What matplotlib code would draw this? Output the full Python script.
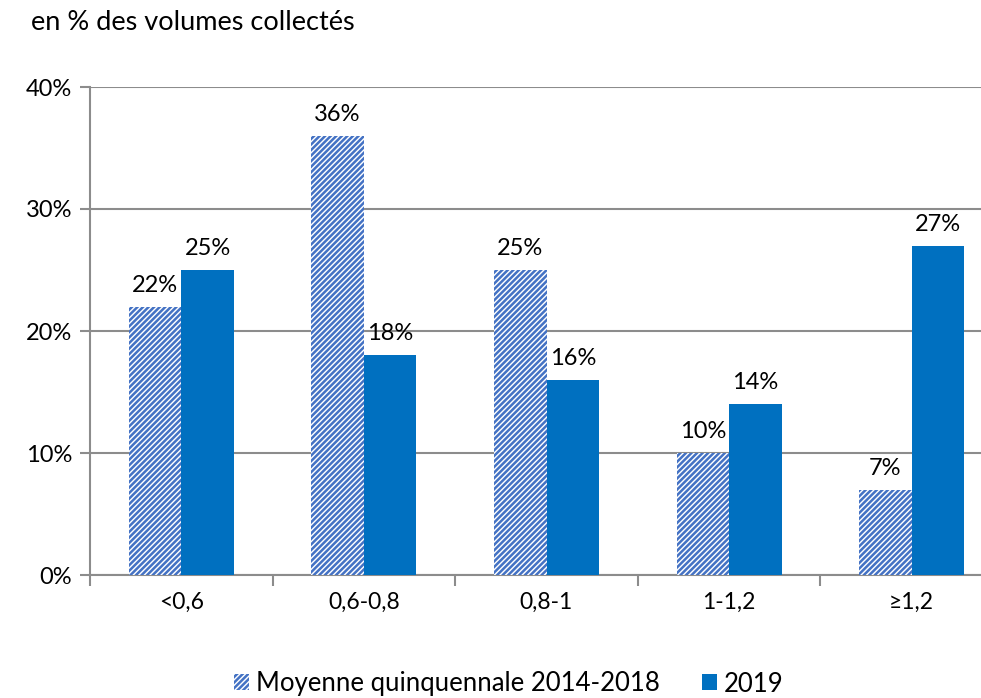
import matplotlib
matplotlib.use("Agg")
import matplotlib.pyplot as plt
import numpy as np
from matplotlib.patches import Patch

categories = ["<0,6", "0,6-0,8", "0,8-1", "1-1,2", "≥1,2"]
moyenne = [22, 36, 25, 10, 7]
v2019 = [25, 18, 16, 14, 27]
series_names = ["Moyenne quinquennale 2014-2018", "2019"]
yticks = [0, 10, 20, 30, 40]

plt.rcParams['font.family'] = ['Lato', 'DejaVu Sans']
plt.rcParams['hatch.linewidth'] = 1.8

hatch_col = "#4472C4"
solid_col = "#0070C0"
grid_col = "#8C8C8C"
HATCH = "//////"

fig = plt.figure(figsize=(9.81, 6.98), dpi=100)
ax = fig.add_axes([90/981, (698-575)/698, 913/981, (575-87)/698])

x = np.arange(len(categories))
w = 0.2875
b1 = ax.bar(x - w/2, moyenne, w, facecolor="white", edgecolor=hatch_col,
            hatch=HATCH, linewidth=0, zorder=3)
b2 = ax.bar(x + w/2, v2019, w, color=solid_col, linewidth=0, zorder=3)

for xi, v in zip(x - w/2, moyenne):
    ax.text(xi, v + 0.9, f"{v}%", ha="center", va="bottom", fontsize=17, color="black")
for xi, v in zip(x + w/2, v2019):
    ax.text(xi, v + 0.9, f"{v}%", ha="center", va="bottom", fontsize=17, color="black")

ax.set_xlim(-0.5, len(categories) - 0.5)
ax.set_ylim(0, 40)
ax.set_yticks(yticks)
ax.set_yticklabels([f"{t}%" for t in yticks], fontsize=17)
ax.set_xticks(x)
ax.set_xticklabels(categories, fontsize=16.5)
ax.set_xticks(np.arange(len(categories) + 1) - 0.5, minor=True)
ax.tick_params(axis="x", which="major", length=0, pad=12)
ax.tick_params(axis="x", which="minor", length=8, color=grid_col, width=1.5)
ax.tick_params(axis="y", length=7, color=grid_col, width=1.5, pad=6)

ax.yaxis.grid(True, color=grid_col, linewidth=1.5, zorder=0)
ax.set_axisbelow(True)
for s in ["top", "right"]:
    ax.spines[s].set_visible(False)
for s in ["left", "bottom"]:
    ax.spines[s].set_color(grid_col)
    ax.spines[s].set_linewidth(1.5)

fig.text(31/981, 1 - 22/698, "en % des volumes collectés", fontsize=19.5,
         ha="left", va="center")

handles = [Patch(facecolor="white", edgecolor=hatch_col, hatch=HATCH, linewidth=0),
           Patch(facecolor=solid_col, linewidth=0)]
fig.legend(handles, series_names, loc="center", bbox_to_anchor=(509/981, 1 - 684/698),
           ncol=2, frameon=False, fontsize=18.5, handlelength=0.58, handleheight=0.58,
           columnspacing=1.65, handletextpad=0.27)

fig.savefig("out.png", dpi=100)
